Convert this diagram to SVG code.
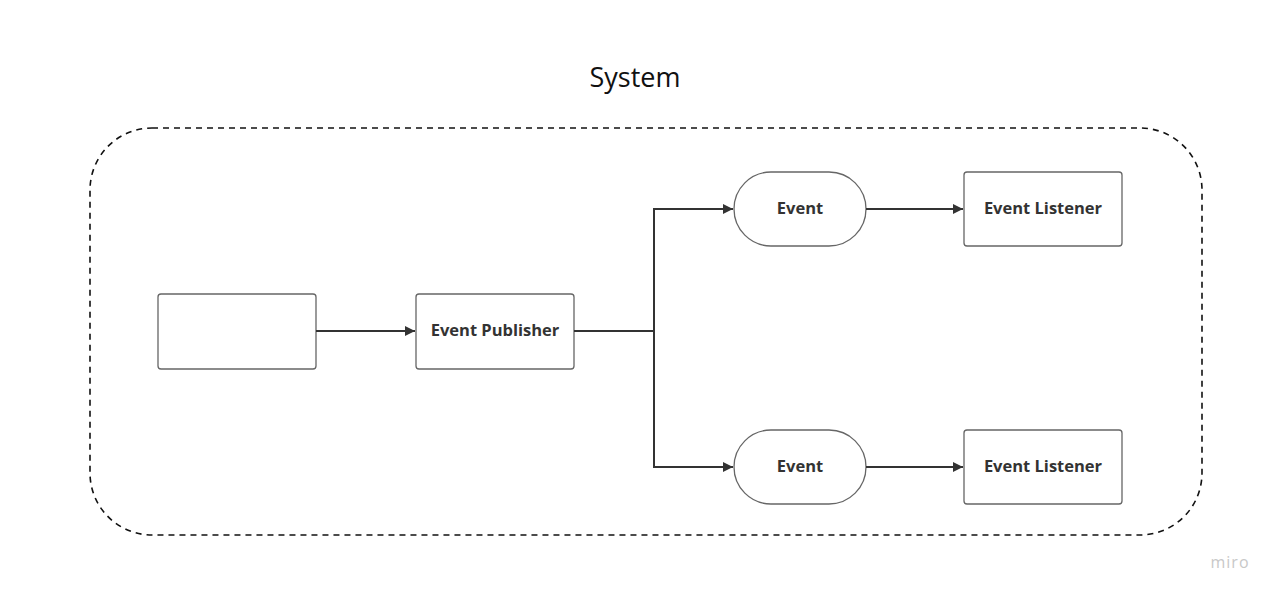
<svg xmlns="http://www.w3.org/2000/svg" width="1280" height="598" viewBox="0 0 1280 598">
<defs>
<marker id="arr" viewBox="0 0 10 10" refX="10" refY="5" markerWidth="10" markerHeight="10" markerUnits="userSpaceOnUse" orient="auto">
<path d="M0,0 L10,5 L0,10 z" fill="#333"/>
</marker>
<style>
.box{fill:#fff;stroke:#666;stroke-width:1.3}
.lbl{font-family:"Open Sans","Liberation Sans",sans-serif;font-weight:bold;font-size:16.5px;fill:#333;text-anchor:middle;dominant-baseline:central}
.con{fill:none;stroke:#333;stroke-width:2}
</style>
</defs>
<rect width="1280" height="598" fill="#fff"/>
<text x="635" y="87" font-family="'Open Sans','Liberation Sans',sans-serif" font-size="27" fill="#111" text-anchor="middle">System</text>
<rect id="system" x="90" y="128" width="1112" height="407" rx="62" ry="62" fill="none" stroke="#111" stroke-width="1.6" stroke-dasharray="6,5"/>
<g id="source"><rect class="box" x="158" y="294" width="158" height="75" rx="3"/></g>
<g id="publisher"><rect class="box" x="416" y="294" width="158" height="75" rx="3"/><text class="lbl" x="495" y="329">Event Publisher</text></g>
<g id="event1"><rect class="box" x="734" y="172" width="132" height="74" rx="37"/><text class="lbl" x="800" y="207">Event</text></g>
<g id="listener1"><rect class="box" x="964" y="172" width="158" height="74" rx="3"/><text class="lbl" x="1043" y="207">Event Listener</text></g>
<g id="event2"><rect class="box" x="734" y="430" width="132" height="74" rx="37"/><text class="lbl" x="800" y="465">Event</text></g>
<g id="listener2"><rect class="box" x="964" y="430" width="158" height="74" rx="3"/><text class="lbl" x="1043" y="465">Event Listener</text></g>
<g id="connectors">
<path class="con" d="M316,331 H415" marker-end="url(#arr)"/>
<path class="con" d="M574,331 H654 V209 H733" marker-end="url(#arr)"/>
<path class="con" d="M654,331 V467 H733" marker-end="url(#arr)"/>
<path class="con" d="M866,209 H963" marker-end="url(#arr)"/>
<path class="con" d="M866,467 H963" marker-end="url(#arr)"/>
</g>
<text x="1230" y="568" font-family="'Open Sans','Liberation Sans',sans-serif" font-size="16" fill="#c8c8c8" text-anchor="middle" letter-spacing="1">miro</text>
</svg>
